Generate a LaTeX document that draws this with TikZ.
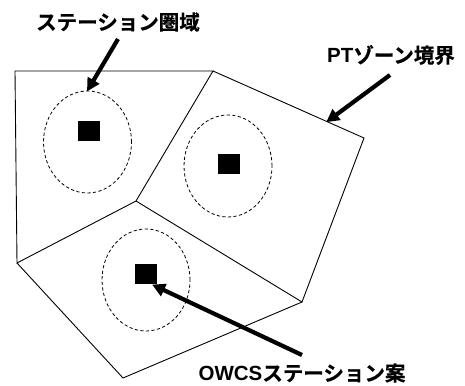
\documentclass[tikz,border=0pt]{standalone}
\usepackage{fontspec}
\usetikzlibrary{shapes.geometric,arrows.meta,calc}
\newfontfamily\jpfont{Noto Sans CJK JP Bold}[FakeBold=0.6]
\newfontfamily\latfont{Liberation Sans Bold}
\begin{document}
\begin{tikzpicture}[x=1pt,y=-1pt,
  zoneline/.style={line width=0.9pt, line join=miter},
  reach/.style={ellipse, draw, dash pattern=on 3.2pt off 2.4pt, line width=0.8pt,
                minimum width=88pt, minimum height=102pt, inner sep=0pt},
  station/.style={rectangle, fill=black, minimum width=22pt, minimum height=20pt, inner sep=0pt},
  callout/.style={font=\fontsize{20.5}{24}\selectfont, inner sep=0pt},
  pointer/.style={line width=4.2pt, -{Triangle[length=13pt,width=13pt]}, shorten >=-1pt}]
  \useasboundingbox (0,0) rectangle (465,385);

  % zone boundary vertices
  \coordinate (v1) at (15,71);
  \coordinate (v2) at (213,71);
  \coordinate (v3) at (364,138);
  \coordinate (v4) at (302,302);
  \coordinate (v5) at (136,201);
  \coordinate (v6) at (17,263);
  \coordinate (v7) at (123,378);

  % the three PT zones
  \draw[zoneline] (v1) -- (v2) -- (v5) -- (v6) -- cycle;
  \draw[zoneline] (v2) -- (v3) -- (v4) -- (v5);
  \draw[zoneline] (v6) -- (v7) -- (v4);

  % station catchments and stations
  \node[reach]   (ellA) at (87.5,142) {};
  \node[reach]   (ellB) at (228,166) {};
  \node[reach]   (ellC) at (146,280) {};
  \node[station] (stA)  at (89,131) {};
  \node[station] (stB)  at (229,164) {};
  \node[station] (stC)  at (146,274) {};

  % labels
  \node[callout] (labA) at (118,22) {\jpfont ステーション圏域};
  \node[callout] (labB) at (391,55) {\latfont PT\jpfont ゾーン境界};
  \node[callout] (labC) at (302,373) {\latfont OWCS\jpfont ステーション案};

  % pointer ends
  \coordinate (tA) at (118,39);
  \coordinate (tB) at (390,75);
  \coordinate (tC) at (302,355);
  \coordinate (edgeB) at ($(v2)!0.755!(v3)$);
  \coordinate (hitC) at (153,285);

  \draw[pointer] (tA) -- (ellA.north);
  \draw[pointer] (tB) -- (edgeB);
  \draw[pointer] (tC) -- (hitC);
\end{tikzpicture}
\end{document}
